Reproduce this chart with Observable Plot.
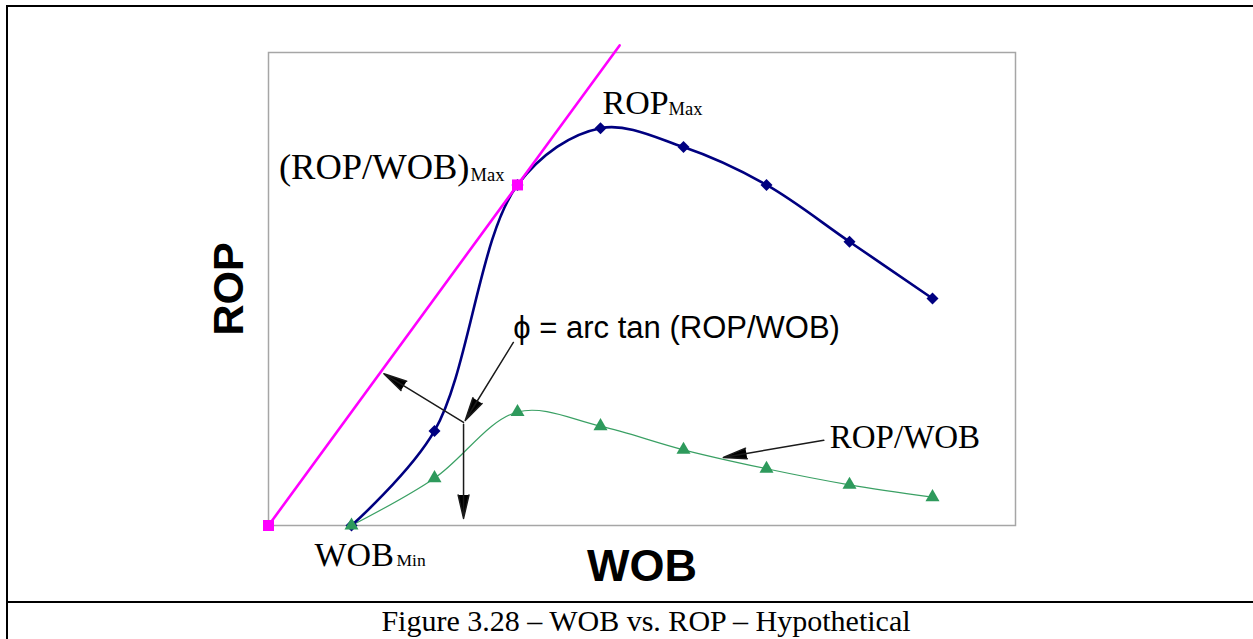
<!DOCTYPE html>
<html>
<head>
<meta charset="utf-8">
<script src="https://cdn.jsdelivr.net/npm/d3@7"></script>
<script src="https://cdn.jsdelivr.net/npm/@observablehq/plot@0.6"></script>
<style>
  html, body { margin: 0; padding: 0; background: #fff; width: 1253px; height: 639px; overflow: hidden; }
  #outer { position: absolute; left: 6px; top: 5px; width: 1400px; height: 598px; border: 2px solid #000; box-sizing: border-box; }
  #capcell { position: absolute; left: 6px; top: 603px; width: 1400px; height: 100px; border-left: 2px solid #000; box-sizing: border-box; }
  #chart { position: absolute; left: 0; top: 0; }
  #caption { position: absolute; left: 0; top: 606px; width: 1292px; text-align: center;
             font: 30px/30px "Liberation Serif", "Times New Roman", serif; color: #000; }
</style>
</head>
<body>
<div id="outer"></div>
<div id="capcell"></div>
<div id="chart"></div>
<div id="caption">Figure 3.28 – WOB vs. ROP – Hypothetical</div>
<script>
// Weight on bit (relative units) and the resulting rate of penetration
const wob = [1, 2, 3, 4, 5, 6, 7, 8];
const rop = [0, 20, 72, 84, 80, 72, 60, 48];
// Specific rate ROP/WOB at the same weights
const ropPerWob = [0, 10, 24, 21, 16, 12, 8.6, 6];
// Tangent from the origin through the point of maximum ROP/WOB
const tangentWob = [0, 3, 4.23];
const tangentRop = [0, 72, 101.5];

// Annotation pointers (start -> tip)
const pointerWob1 = [2.35, 2.95, 2.35, 6.69];
const pointerRop1 = [21.8, 38.7, 21.4, 18.0];
const pointerWob2 = [1.39, 2.37, 2.35, 5.48];
const pointerRop2 = [32.1, 22.2, 1.5, 14.4];

const ropRows = wob.map((w, i) => ({wob: w, rop: rop[i]}));
const ratioRows = wob.map((w, i) => ({wob: w, ratio: ropPerWob[i]}));
const tangentRows = tangentWob.map((w, i) => ({wob: w, rop: tangentRop[i]}));
const pointerRows = pointerWob1.map((w, i) => ({x1: w, y1: pointerRop1[i], x2: pointerWob2[i], y2: pointerRop2[i]}));

const ropMax = d3.greatest(ropRows, d => d.rop);
const ratioMaxPoint = tangentRows[1];
const wobMin = ropRows[0];
const phiStart = pointerRows[1];
const ratioStart = pointerRows[3];

const serif = '"Liberation Serif", "Times New Roman", serif';
const sans = '"Liberation Sans", Arial, Helvetica, sans-serif';

const label = (row, xk, yk, text, opts) =>
  Plot.text([row], {x: xk, y: yk, text: () => text, fill: "#000", textAnchor: "start", lineAnchor: "bottom", ...opts});

const chart = Plot.plot({
  width: 1253,
  height: 600,
  marginLeft: 268,
  marginRight: 238,
  marginTop: 52,
  marginBottom: 75,
  x: {domain: [0, 9], axis: null},
  y: {domain: [0, 100], axis: null},
  style: {background: "transparent", overflow: "visible"},
  marks: [
    Plot.frame({stroke: "#a6a6a6", strokeWidth: 1.5}),
    Plot.line(ratioRows, {x: "wob", y: "ratio", curve: "catmull-rom", stroke: "#3aa064", strokeWidth: 1.2}),
    Plot.line(ropRows, {x: "wob", y: "rop", curve: "catmull-rom", stroke: "#000080", strokeWidth: 2.6}),
    Plot.line(tangentRows, {x: "wob", y: "rop", stroke: "#ff00ff", strokeWidth: 2.6}),
    Plot.dot(ropRows, {x: "wob", y: "rop", symbol: "diamond2", r: 5.4, fill: "#000080", stroke: null}),
    Plot.dot(ratioRows, {x: "wob", y: "ratio", symbol: "triangle", r: 5.2, fill: "#2e9a5c", stroke: null}),
    Plot.dot(tangentRows.slice(0, 2), {x: "wob", y: "rop", symbol: "square", r: 6.2, fill: "#ff00ff", stroke: null}),
    Plot.arrow(pointerRows, {x1: "x1", y1: "y1", x2: "x2", y2: "y2", stroke: "#1a1a1a", fill: "#000",
      strokeWidth: 1.5, headLength: 24, headAngle: 26}),

    // axis titles
    Plot.text(["ROP"], {frameAnchor: "left", text: d => d, rotate: -90, dx: -39, textAnchor: "middle",
      lineAnchor: "middle", fontSize: 43, fontWeight: "bold", fontFamily: sans, fill: "#000"}),
    Plot.text(["WOB"], {frameAnchor: "bottom", text: d => d, dy: 41, textAnchor: "middle",
      lineAnchor: "middle", fontSize: 45, fontWeight: "bold", fontFamily: sans, fill: "#000"}),

    // annotations
    label(ropMax, "wob", "rop", "ROP", {dx: 2, dy: -14, fontSize: 34, fontFamily: serif}),
    label(ropMax, "wob", "rop", "Max", {dx: 68, dy: -13, fontSize: 18.5, fontFamily: serif}),
    label(ratioMaxPoint, "wob", "rop", "(ROP/WOB)", {textAnchor: "end", dx: -48, dy: -6, fontSize: 36.5, fontFamily: serif}),
    label(ratioMaxPoint, "wob", "rop", "Max", {dx: -47, dy: -4, fontSize: 18.5, fontFamily: serif}),
    label(wobMin, "wob", "rop", "WOB", {dx: -37, dy: 40, fontSize: 34, fontFamily: serif}),
    label(wobMin, "wob", "rop", "Min", {dx: 45, dy: 40, fontSize: 17.5, fontFamily: serif}),
    label(phiStart, "x1", "y1", "\u03d5 = arc tan (ROP/WOB)", {dx: 0, dy: -4, fontSize: 31, fontFamily: sans}),
    label(ratioStart, "x1", "y1", "ROP/WOB", {dx: 6, dy: 8, fontSize: 33, fontFamily: serif})
  ]
});
document.getElementById("chart").appendChild(chart);
</script>
</body>
</html>
